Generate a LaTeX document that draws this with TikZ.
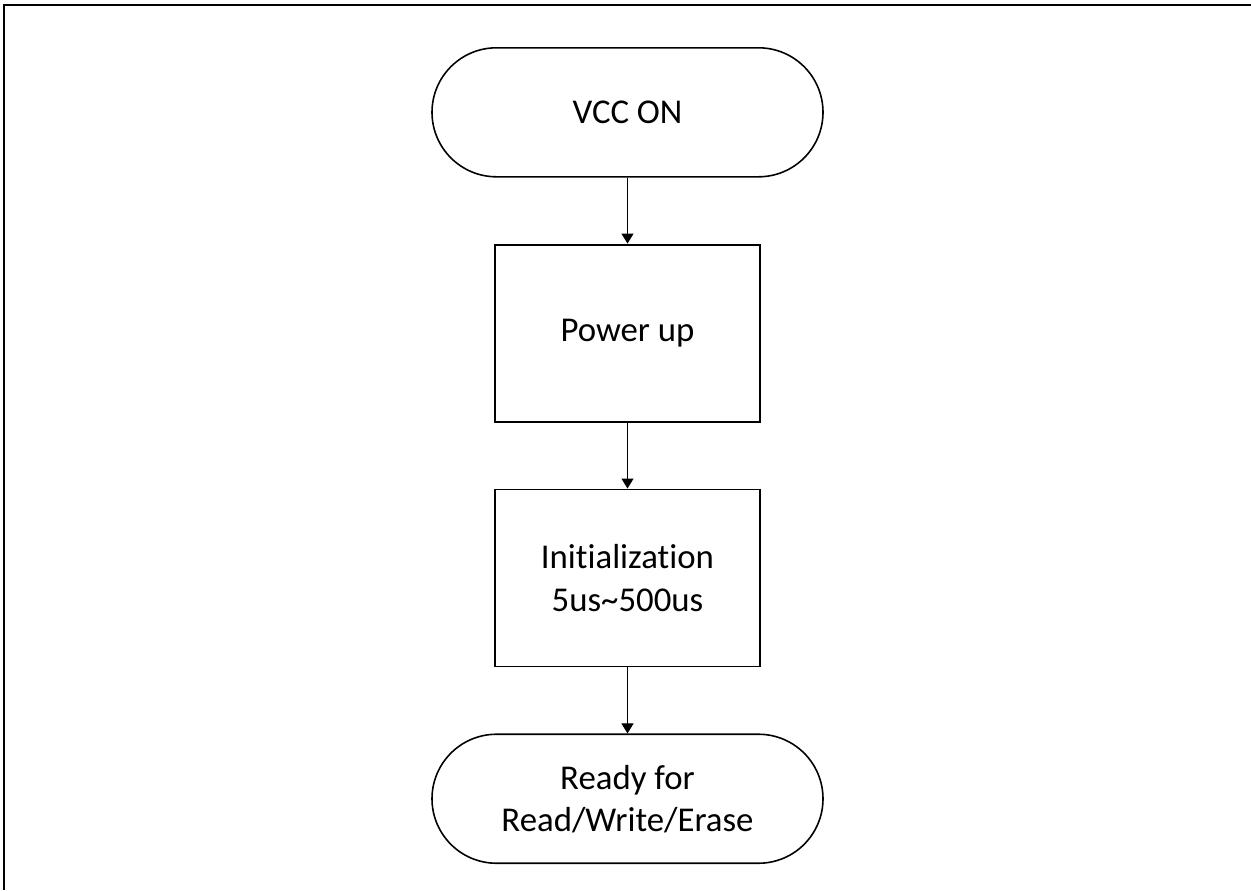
\documentclass[tikz,border=0pt]{standalone}
\usepackage{fontspec}
\setmainfont{Carlito}[Ligatures=NoCommon]
\usepackage{tikz}
\usetikzlibrary{arrows.meta,shapes,positioning}

\begin{document}
\begin{tikzpicture}[node distance=1.32cm,>={Triangle[width=0.24cm,length=0.2cm]}]

    \tikzstyle{terminal}=[rectangle,rounded corners=1.29cm,draw=black,line width=0.9pt,minimum width=7.82cm,minimum height=2.58cm,align=center,font=\fontsize{19.8}{24}\selectfont]
    \tikzstyle{process}=[rectangle,draw=black,line width=1.1pt,minimum width=5.3cm,minimum height=3.54cm,align=center,font=\fontsize{19.8}{24}\selectfont]
    \tikzstyle{arrowin}=[<-,line width=0.6pt]

    \useasboundingbox (0,0) rectangle (25.02,-17.8);
    \draw [line width=1.2pt] (0.08,-17.8) -- (0.08,-0.1) -- (25.02,-0.1);

    \begin{scope}
        \node [terminal,anchor=north] (vcc) at (12.55,-0.94) {VCC ON};
        \node [process] (pwr) [below=of vcc] {Power up}
            edge [arrowin] (vcc);
        \node [process] (init) [below=of pwr] {Initialization\\5us\textasciitilde500us}
            edge [arrowin] (pwr);
        \node [terminal] (ready) [below=of init] {Ready for\\Read/Write/Erase}
            edge [arrowin] (init);
    \end{scope}
\end{tikzpicture}
\end{document}
